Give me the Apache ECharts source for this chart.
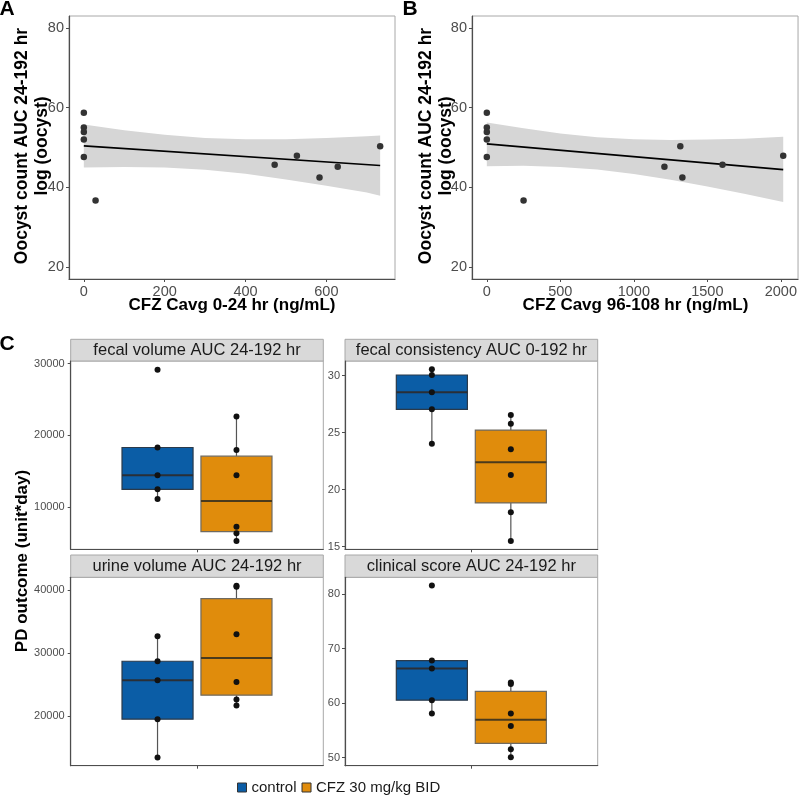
<!DOCTYPE html>
<html><head><meta charset="utf-8">
<script src="https://cdn.jsdelivr.net/npm/echarts@6/dist/echarts.min.js"></script>
<style>html,body{margin:0;padding:0;background:#fff}#c{width:800px;height:796px}</style>
</head><body><div id="c"></div>
<script>
// ---------- Panel A / B data ----------
const xA = [0, 0, 0, 0, 0, 29, 472, 527, 583, 628, 733];
const yA = [58.7, 55.0, 53.9, 52.0, 47.6, 36.7, 45.7, 47.9, 42.5, 45.2, 50.3];
const xB = [0, 0, 0, 0, 0, 250, 1208, 1316, 1330, 1603, 2016];
const yB = [58.7, 55.0, 53.9, 52.0, 47.6, 36.7, 45.2, 50.3, 42.5, 45.7, 47.9];
const fitAX = [0, 733], fitAY = [50.4, 45.5];
const fitBX = [0, 2016], fitBY = [50.9, 44.45];
const bandAX = [0, 100, 200, 300, 400, 500, 600, 700, 733];
const bandAUpper = [55.8, 54.3, 53.2, 52.4, 52.1, 52.1, 52.4, 52.8, 53.0];
const bandALower = [45.0, 45.1, 45.0, 44.4, 43.4, 42.0, 40.4, 38.7, 37.9];
const bandBX = [0, 250, 500, 750, 1000, 1250, 1500, 1750, 2016];
const bandBUpper = [56.3, 54.8, 53.5, 52.55, 52.05, 51.9, 52.0, 52.2, 52.7];
const bandBLower = [45.3, 45.4, 45.1, 44.45, 43.35, 41.9, 40.2, 38.4, 36.3];
const yTicksAB = [20, 40, 60, 80];
const xTicksA = [0, 200, 400, 600];
const xTicksB = [0, 500, 1000, 1500, 2000];

// ---------- Panel C data ----------
const groups = ['control', 'CFZ 30 mg/kg BID'];
const facetTitles = ['fecal volume AUC 24-192 hr', 'fecal consistency AUC 0-192 hr',
                     'urine volume AUC 24-192 hr', 'clinical score AUC 24-192 hr'];
const fecalVolControl = [29164, 18300, 14443, 12465, 11114];
const fecalVolCFZ = [22618, 17967, 14443, 7256, 6333, 5264];
const fecalConsControl = [30.56, 30.06, 28.54, 27.05, 24.03];
const fecalConsCFZ = [26.55, 25.79, 23.54, 21.29, 18.02, 15.5];
const urineControl = [32686, 28736, 25735, 19573, 13507];
const urineCFZ = [40700, 40550, 33001, 25466, 22670, 21722];
const clinicalControl = [81.58, 67.8, 66.33, 60.53, 58.07];
const clinicalCFZ = [63.76, 63.5, 58.07, 55.8, 51.54, 50.07];
const ticksFecalVol = [10000, 20000, 30000];
const ticksFecalCons = [15, 20, 25, 30];
const ticksUrine = [20000, 30000, 40000];
const ticksClinical = [50, 60, 70, 80];

// ---------- helpers ----------
const FONT = '"Liberation Sans", Arial, sans-serif';
const AXIS_DARK = '#4d4d4d';
const TICK_COL = '#4d4d4d';
const BLUE = '#0b5da6', ORANGE = '#e08c0c';

function quantile(s, p) {
  const h = (s.length - 1) * p, lo = Math.floor(h);
  const nxt = lo + 1 < s.length ? s[lo + 1] : s[lo];
  return s[lo] + (h - lo) * (nxt - s[lo]);
}
function stats(vals) {
  const s = [...vals].sort((a, b) => a - b);
  const q1 = quantile(s, 0.25), med = quantile(s, 0.5), q3 = quantile(s, 0.75);
  const iqr = q3 - q1;
  const lo = Math.min(...s.filter(v => v >= q1 - 1.5 * iqr));
  const hi = Math.max(...s.filter(v => v <= q3 + 1.5 * iqr));
  return { q1, med, q3, lo, hi };
}

const grids = [
  { left: 69, top: 16, width: 326, height: 263 },
  { left: 472, top: 16, width: 327, height: 263 },
  { left: 70.7, top: 361, width: 252.6, height: 188.3 },
  { left: 345, top: 361, width: 252.7, height: 188.3 },
  { left: 70.7, top: 577.3, width: 252.6, height: 188.4 },
  { left: 345, top: 577.3, width: 252.7, height: 188.4 }
].map(g => Object.assign({ show: true, borderColor: '#a8a8a8', borderWidth: 1, backgroundColor: '#fff' }, g));

function valAxis(gi, min, max, ticks, fontSize, margin, showLabel) {
  return {
    type: 'value', gridIndex: gi, min, max,
    axisLine: { show: true, onZero: false, lineStyle: { color: AXIS_DARK, width: 1.2 } },
    axisTick: { show: true, length: 3, customValues: ticks, lineStyle: { color: AXIS_DARK } },
    axisLabel: { show: showLabel, customValues: ticks, fontSize, color: TICK_COL, margin, fontFamily: FONT,
                 formatter: v => String(v) },
    splitLine: { show: false }
  };
}

const xAxes = [
  valAxis(0, -36.7, 769.7, xTicksA, 14.5, 5, true),
  valAxis(1, -100.8, 2116.8, xTicksB, 14.5, 5, true),
  valAxis(2, 0.4, 1.6, [1], 11, 5, false),
  valAxis(3, 0.4, 1.6, [1], 11, 5, false),
  valAxis(4, 0.4, 1.6, [1], 11, 5, false),
  valAxis(5, 0.4, 1.6, [1], 11, 5, false)
];
const yAxes = [
  valAxis(0, 17, 83, yTicksAB, 14.5, 5, true),
  valAxis(1, 17, 83, yTicksAB, 14.5, 5, true),
  valAxis(2, 4100, 30370, ticksFecalVol, 11, 6, true),
  valAxis(3, 14.77, 31.29, ticksFecalCons, 11, 5, true),
  valAxis(4, 12200, 42030, ticksUrine, 11, 6, true),
  valAxis(5, 48.5, 83.1, ticksClinical, 11, 5, true)
];

const series = [];

function bandSeries(gi, bx, lower, upper) {
  return {
    type: 'custom', xAxisIndex: gi, yAxisIndex: gi, silent: true, z: 1,
    data: bx.map((x, i) => [x, lower[i], upper[i]]),
    encode: { x: 0, y: [1, 2] },
    renderItem: (params, api) => {
      if (params.dataIndex !== 0) return null;
      const pts = [];
      for (let i = 0; i < bx.length; i++) pts.push(api.coord([bx[i], upper[i]]));
      for (let i = bx.length - 1; i >= 0; i--) pts.push(api.coord([bx[i], lower[i]]));
      return { type: 'polygon', shape: { points: pts, smooth: 0 }, style: { fill: '#d6d6d6', stroke: null } };
    }
  };
}
series.push(bandSeries(0, bandAX, bandALower, bandAUpper));
series.push(bandSeries(1, bandBX, bandBLower, bandBUpper));
series.push({ type: 'line', xAxisIndex: 0, yAxisIndex: 0, data: fitAX.map((x, i) => [x, fitAY[i]]), showSymbol: false, silent: true, z: 3, lineStyle: { color: '#000', width: 1.6 } });
series.push({ type: 'line', xAxisIndex: 1, yAxisIndex: 1, data: fitBX.map((x, i) => [x, fitBY[i]]), showSymbol: false, silent: true, z: 3, lineStyle: { color: '#000', width: 1.6 } });
series.push({ type: 'scatter', xAxisIndex: 0, yAxisIndex: 0, data: xA.map((x, i) => [x, yA[i]]), symbolSize: 6.5, z: 4, itemStyle: { color: '#333', opacity: 1 } });
series.push({ type: 'scatter', xAxisIndex: 1, yAxisIndex: 1, data: xB.map((x, i) => [x, yB[i]]), symbolSize: 6.5, z: 4, itemStyle: { color: '#333', opacity: 1 } });

const BOX_W = 0.3375;
const groupPos = [0.8125, 1.1875];
function boxSeries(gi, gIdx, vals) {
  const s = stats(vals);
  const fill = gIdx === 0 ? BLUE : ORANGE;
  const border = gIdx === 0 ? '#2b3a4a' : '#6f6a60';
  const med = gIdx === 0 ? '#2a2f36' : '#4a3a1c';
  return {
    type: 'custom', name: groups[gIdx], xAxisIndex: gi, yAxisIndex: gi, z: 2,
    itemStyle: { color: fill },
    data: [[groupPos[gIdx], s.lo, s.q1, s.med, s.q3, s.hi]],
    encode: { x: 0, y: [1, 2, 3, 4, 5] },
    renderItem: (params, api) => {
      const x = api.value(0);
      const w = api.size([BOX_W, 0])[0];
      const pLo = api.coord([x, api.value(1)]), pQ1 = api.coord([x, api.value(2)]);
      const pMed = api.coord([x, api.value(3)]), pQ3 = api.coord([x, api.value(4)]);
      const pHi = api.coord([x, api.value(5)]);
      return { type: 'group', children: [
        { type: 'line', shape: { x1: pQ3[0], y1: pQ3[1], x2: pHi[0], y2: pHi[1] }, style: { stroke: '#555', lineWidth: 1.2 } },
        { type: 'line', shape: { x1: pQ1[0], y1: pQ1[1], x2: pLo[0], y2: pLo[1] }, style: { stroke: '#555', lineWidth: 1.2 } },
        { type: 'rect', shape: { x: pQ3[0] - w / 2, y: pQ3[1], width: w, height: pQ1[1] - pQ3[1] }, style: { fill, stroke: border, lineWidth: 1.2 } },
        { type: 'line', shape: { x1: pMed[0] - w / 2, y1: pMed[1], x2: pMed[0] + w / 2, y2: pMed[1] }, style: { stroke: med, lineWidth: 2 } }
      ] };
    }
  };
}
function pointSeries(gi, gIdx, vals) {
  return { type: 'scatter', xAxisIndex: gi, yAxisIndex: gi, z: 5, symbolSize: 6, itemStyle: { color: '#111', opacity: 1 },
           data: vals.map(v => [groupPos[gIdx], v]) };
}
const facetData = [
  [fecalVolControl, fecalVolCFZ],
  [fecalConsControl, fecalConsCFZ],
  [urineControl, urineCFZ],
  [clinicalControl, clinicalCFZ]
];
facetData.forEach((pair, f) => {
  const gi = f + 2;
  pair.forEach((vals, g) => series.push(boxSeries(gi, g, vals)));
  pair.forEach((vals, g) => series.push(pointSeries(gi, g, vals)));
});

// ---------- graphics: labels, titles, strips ----------
const graphic = [];
function txt(text, x, y, size, bold, opts) {
  return Object.assign({ type: 'text', x, y, silent: true,
    style: { text, fill: '#000', font: (bold ? 'bold ' : '') + size + 'px ' + FONT, align: 'center', verticalAlign: 'middle' } }, opts || {});
}
graphic.push(txt('A', 7, 9, 21, true));
graphic.push(txt('B', 410, 9, 21, true));
graphic.push(txt('C', 7, 344, 21, true));
graphic.push(txt('Oocyst count AUC 24-192 hr', 22.5, 146, 17.5, true, { rotation: Math.PI / 2 }));
graphic.push(txt('log (oocyst)', 42.5, 146, 17.5, true, { rotation: Math.PI / 2 }));
graphic.push(txt('Oocyst count AUC 24-192 hr', 426.5, 146, 17.5, true, { rotation: Math.PI / 2 }));
graphic.push(txt('log (oocyst)', 446.5, 146, 17.5, true, { rotation: Math.PI / 2 }));
graphic.push(txt('CFZ Cavg 0-24 hr (ng/mL)', 232, 305.5, 17, true));
graphic.push(txt('CFZ Cavg 96-108 hr (ng/mL)', 635.5, 305.5, 17, true));
graphic.push(txt('PD outcome (unit*day)', 22.5, 561, 17, true, { rotation: Math.PI / 2 }));
const stripTops = [339.3, 339.3, 555, 555];
facetTitles.forEach((t, f) => {
  const g = grids[f + 2];
  const h = g.top - stripTops[f];
  graphic.push({ type: 'rect', silent: true, shape: { x: g.left, y: stripTops[f], width: g.width, height: h },
                 style: { fill: '#d9d9d9', stroke: '#a8a8a8', lineWidth: 1 } });
  graphic.push(txt(t, g.left + g.width / 2, stripTops[f] + h / 2 + 0.5, 16.5, false, { style: { text: t, fill: '#1a1a1a', font: '16.5px ' + FONT, align: 'center', verticalAlign: 'middle' } }));
});

const option = {
  animation: false,
  backgroundColor: '#fff',
  textStyle: { fontFamily: FONT },
  grid: grids,
  xAxis: xAxes,
  yAxis: yAxes,
  legend: {
    data: groups.map(n => ({ name: n, icon: 'rect' })),
    left: 232, top: 775, itemWidth: 9, itemHeight: 9, itemGap: 5,
    itemStyle: { borderColor: '#333', borderWidth: 1 },
    textStyle: { fontSize: 15, color: '#1a1a1a', fontFamily: FONT },
    selectedMode: false
  },
  series,
  graphic
};
const chart = echarts.init(document.getElementById('c'));
chart.setOption(option);
</script>
</body></html>
